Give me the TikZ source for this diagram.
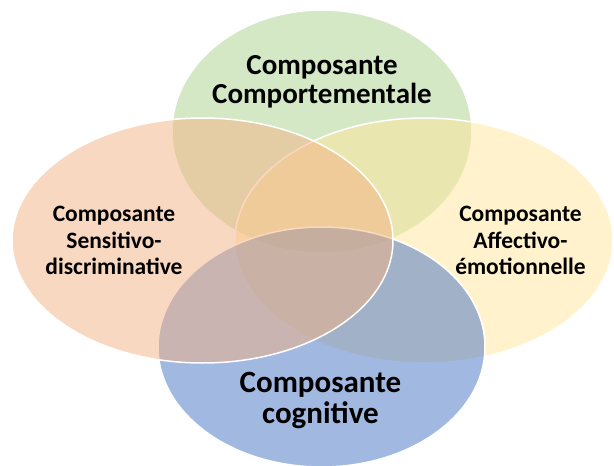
\documentclass[tikz,border=0pt]{standalone}
\usepackage{fontspec}
\setmainfont{Carlito}
\definecolor{vgreen}{HTML}{A9D18E}
\definecolor{vorange}{HTML}{F4B183}
\definecolor{vyellow}{HTML}{FFE699}
\definecolor{vblue}{HTML}{4472C4}
\begin{document}
\begin{tikzpicture}[x=1pt,y=-1pt,
  venn/.style={draw=white, line width=1.5pt, fill opacity=0.5, draw opacity=1},
  lbl/.style={align=center, inner sep=0pt, text=black}]
\useasboundingbox (0,0) rectangle (614,466);
\clip (0,0) rectangle (614,466);
\path[venn, fill=vgreen]  (322,131.5) ellipse [x radius=150pt, y radius=121.5pt];
\path[venn, fill=vyellow] (424,240.5) ellipse [x radius=189pt, y radius=122.5pt];
\path[venn, fill=vblue]   (321.5,347) ellipse [x radius=163.5pt, y radius=120pt];
\path[venn, fill=vorange] (202.5,240.5) ellipse [x radius=190.5pt, y radius=122.5pt];
\node[lbl, font=\fontsize{29}{29}\selectfont\bfseries] (comp) at (322,81.9) {Composante\\Comportementale};
\node[lbl, font=\fontsize{23.5}{26.5}\selectfont\bfseries] (sens) at (114,240.7) {Composante\\Sensitivo-\\discriminative};
\node[lbl, font=\fontsize{23.5}{26.5}\selectfont\bfseries] (affe) at (520.5,240.7) {Composante\\Affectivo-\\émotionnelle};
\node[lbl, font=\fontsize{31}{31}\selectfont\bfseries] (cogn) at (320.5,400.4) {Composante\\cognitive};
\end{tikzpicture}
\end{document}
